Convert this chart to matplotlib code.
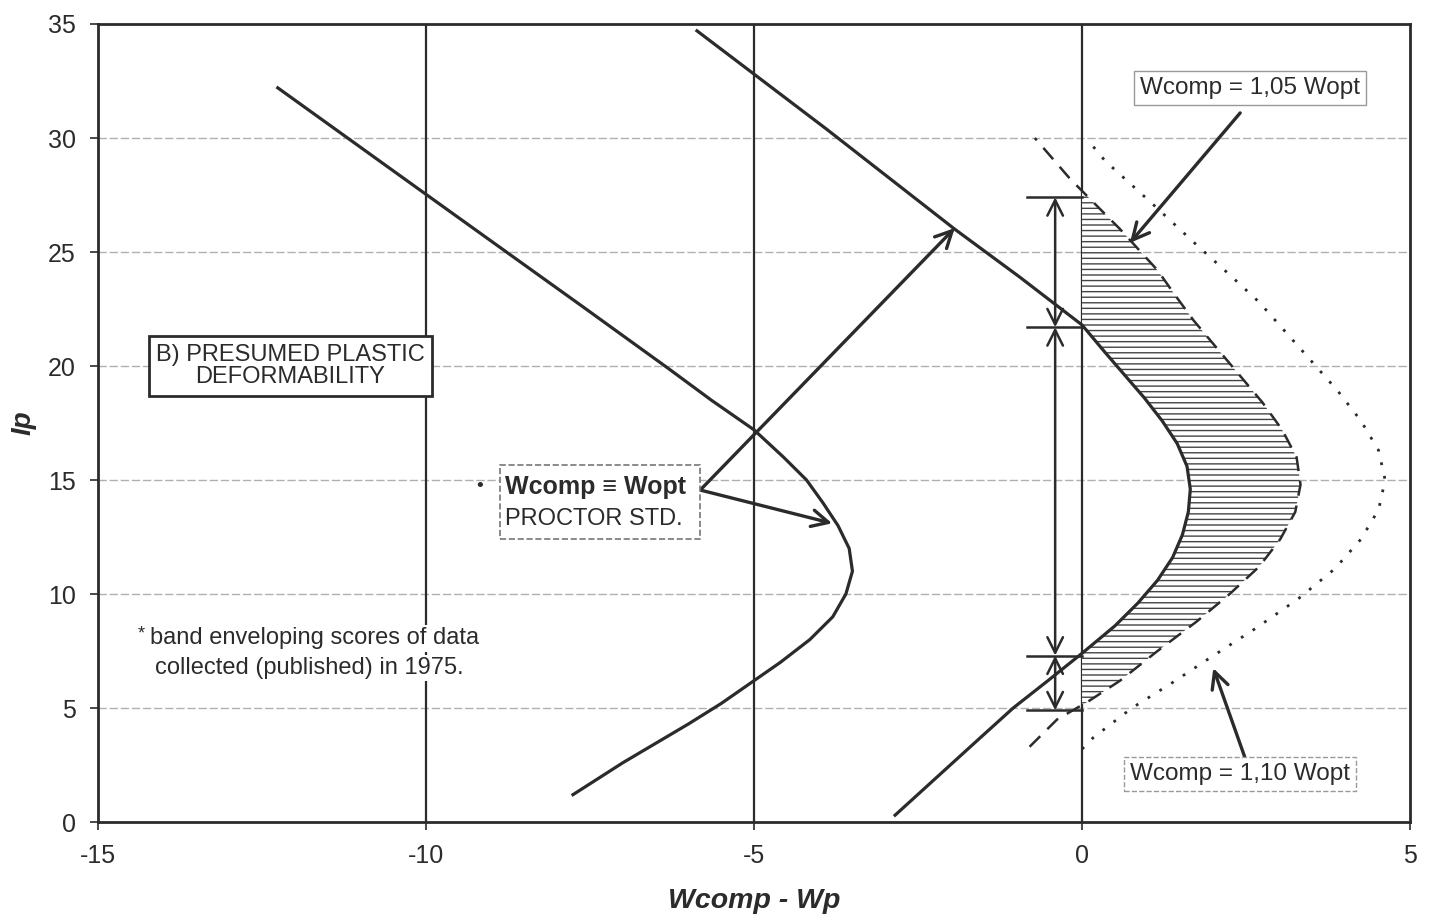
import matplotlib
matplotlib.use("Agg")
import matplotlib.pyplot as plt
from matplotlib.patches import Rectangle
import numpy as np

plt.rcParams['font.family'] = ['Liberation Sans', 'DejaVu Sans']
plt.rcParams['hatch.linewidth'] = 1.0
plt.rcParams['axes.unicode_minus'] = False

# curves: x = Wcomp - Wp, y = Ip
left_x = [-7.76, -7.0, -6.0, -5.5, -5.0, -4.6, -4.15, -3.8, -3.6, -3.5, -3.55,
          -3.72, -3.95, -4.2, -4.55, -5.0, -5.65, -6.31, -7.61, -8.92, -10.18, -12.26]
left_y = [1.2, 2.6, 4.3, 5.2, 6.2, 7.0, 8.0, 9.0, 10.0, 11.0, 12.0,
          13.0, 14.0, 15.0, 16.0, 17.2, 18.5, 19.9, 22.6, 25.3, 27.9, 32.2]

opt_x = [-2.85, -2.2, -1.55, -1.05, -0.52, 0.0, 0.5, 0.85, 1.15, 1.38, 1.53, 1.62,
         1.65, 1.6, 1.45, 1.22, 0.95, 0.65, 0.35, 0.0, -0.95, -1.94, -3.9, -5.87]
opt_y = [0.3, 2.0, 3.7, 5.0, 6.2, 7.4, 8.6, 9.6, 10.6, 11.6, 12.6, 13.6,
         14.6, 15.6, 16.6, 17.6, 18.6, 19.6, 20.6, 21.8, 23.9, 26.0, 30.4, 34.7]

w105_x = [-0.8, -0.38, 0.1, 0.58, 1.15, 1.75, 2.25, 2.7, 3.02, 3.25, 3.33, 3.27,
          3.05, 2.75, 2.4, 2.05, 1.7, 1.42, 1.15, 0.58, -0.18, -0.72]
w105_y = [3.3, 4.5, 5.3, 6.2, 7.5, 8.8, 10.0, 11.2, 12.4, 13.6, 14.8, 16.0,
          17.2, 18.4, 19.6, 20.8, 22.0, 23.1, 24.2, 26.0, 28.2, 30.0]

w110_x = [0.0, 0.17, 0.76, 1.37, 1.95, 2.65, 3.3, 3.85, 4.25, 4.52, 4.62, 4.52,
          4.25, 3.9, 3.5, 3.1, 2.7, 2.25, 1.75, 1.04, 0.35, 0.12]
w110_y = [3.2, 3.7, 5.0, 6.1, 7.2, 8.5, 9.8, 11.1, 12.4, 13.7, 15.0, 16.3,
          17.6, 18.9, 20.2, 21.5, 22.8, 24.0, 25.3, 27.2, 29.0, 29.8]

# range marks of the band
band_y = [27.4, 21.7, 7.3, 4.9]
band_x = -0.41

xticks = [-15, -10, -5, 0, 5]
yticks = [0, 5, 10, 15, 20, 25, 30, 35]

ink = '#2b2b2b'

fig = plt.figure(figsize=(14.33, 9.16), dpi=100)
ax = fig.add_axes([0.0684, 0.1026, 0.9156, 0.8712])
ax.set_xlim(-15, 5)
ax.set_ylim(0, 35)

for y in yticks[1:-1]:
    ax.axhline(y, color='#b0b0b0', lw=1.0, ls=(0, (6, 2)), zorder=1)
for x in [-10, -5, 0]:
    ax.axvline(x, color=ink, lw=1.6, zorder=2)

# hatched band between Wopt and 1.05 Wopt, right of zero
yy = np.linspace(4.0, 29.0, 400)
lo = np.maximum(0, np.interp(yy, opt_y, opt_x))
hi = np.interp(yy, w105_y, w105_x)
ax.fill_betweenx(yy, lo, hi, where=hi > lo, facecolor='white',
                 edgecolor='#444444', hatch='---', linewidth=0, zorder=2)

ax.plot(left_x, left_y, color=ink, lw=2.3, zorder=4)
ax.plot(opt_x, opt_y, color=ink, lw=2.3, zorder=4)
ax.plot(w105_x, w105_y, color=ink, lw=1.8, ls=(0, (6, 4)), zorder=4)
ax.plot(w110_x, w110_y, color=ink, lw=2.0, ls=(0, (1, 4)), zorder=4)

for y in band_y:
    ax.plot([-0.84, 0], [y, y], color=ink, lw=1.8, zorder=4)
for y0, y1 in zip(band_y[:-1], band_y[1:]):
    ax.annotate('', xy=(band_x, y1), xytext=(band_x, y0),
                arrowprops=dict(arrowstyle='<->', color=ink, lw=1.8,
                                mutation_scale=28, shrinkA=0, shrinkB=0),
                zorder=5)

arrow = dict(arrowstyle='->', color=ink, lw=2.4, mutation_scale=30,
             shrinkA=0, shrinkB=0)
ax.annotate('', xy=(-1.94, 26.05), xytext=(-5.82, 14.56), arrowprops=arrow)
ax.annotate('', xy=(-3.81, 13.1), xytext=(-5.82, 14.56), arrowprops=arrow)
ax.annotate('', xy=(0.73, 25.4), xytext=(2.41, 31.1), arrowprops=arrow)
ax.annotate('', xy=(2.0, 6.75), xytext=(2.48, 2.85), arrowprops=arrow)

ax.text(-12.07, 20.0, 'B) PRESUMED PLASTIC\nDEFORMABILITY', ha='center',
        va='center', fontsize=17, color=ink, linespacing=1.05, zorder=6,
        bbox=dict(boxstyle='square,pad=0.3', fc='white', ec=ink, lw=2))

# Wcomp = Wopt box
ax.add_patch(Rectangle((-8.87, 12.4), 3.05, 3.26, fc='white', ec='#777777',
                       lw=1.2, ls='--', zorder=6))
ax.text(-9.18, 14.7, '•', ha='center', va='center', fontsize=14, color=ink)
ax.text(-8.8, 14.69, 'Wcomp ≡ Wopt', ha='left', va='center',
        fontsize=18, color=ink, fontweight='bold', zorder=7)
ax.text(-8.8, 13.29, 'PROCTOR STD.', ha='left', va='center',
        fontsize=17, color=ink, zorder=7)

ax.text(2.56, 32.2, 'Wcomp = 1,05 Wopt', ha='center', va='center',
        fontsize=17.5, color=ink, zorder=6,
        bbox=dict(boxstyle='square,pad=0.25', fc='white', ec='#999999', lw=1))
ax.text(2.41, 2.1, 'Wcomp = 1,10 Wopt', ha='center', va='center',
        fontsize=17.5, color=ink, zorder=6,
        bbox=dict(boxstyle='square,pad=0.25', fc='white', ec='#999999',
                  lw=1, ls='--'))

note = dict(boxstyle='square,pad=0.1', fc='white', ec='none')
ax.text(-14.39, 8.25, '*', ha='left', va='center', fontsize=13, color=ink,
        zorder=6)
ax.text(-14.2, 8.05, 'band enveloping scores of data', ha='left',
        va='center', fontsize=17, color=ink, zorder=6, bbox=note)
ax.text(-14.13, 6.75, 'collected (published) in 1975.', ha='left',
        va='center', fontsize=17, color=ink, zorder=6, bbox=note)

ax.set_xticks(xticks)
ax.set_yticks(yticks)
ax.tick_params(direction='out', length=6, width=1.2, colors=ink,
               labelsize=18, pad=10)
for s in ax.spines.values():
    s.set_color(ink)
    s.set_linewidth(2)

ax.set_xlabel('Wcomp - Wp', fontsize=20.5, fontweight='bold',
              fontstyle='italic', color=ink, labelpad=14)
ax.set_ylabel('Ip', fontsize=20, fontweight='bold', fontstyle='italic',
              color=ink, labelpad=8)

plt.savefig('out.png', dpi=100)
